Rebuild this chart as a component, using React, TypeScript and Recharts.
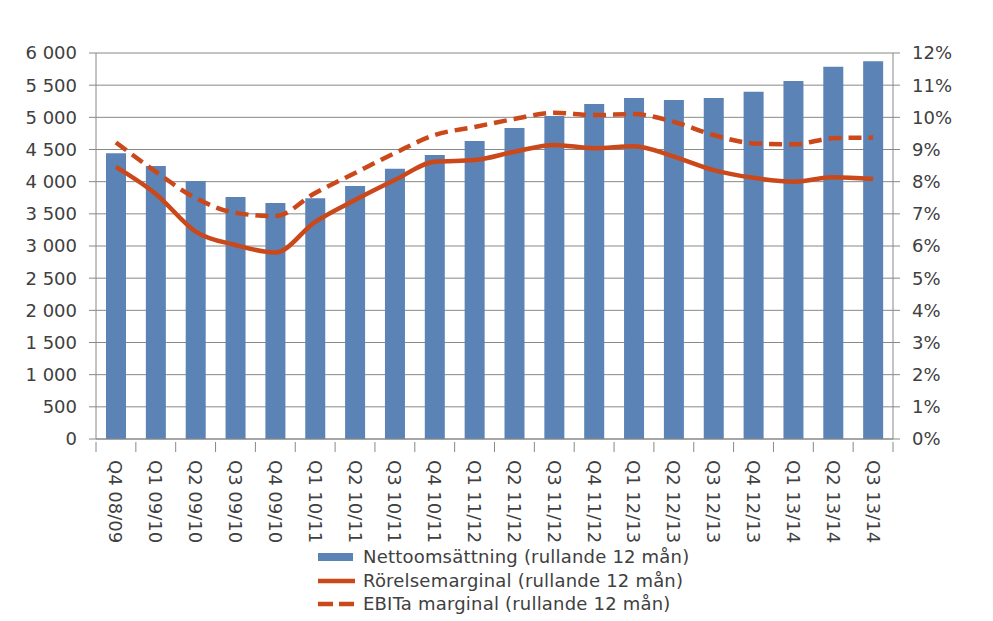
import React from 'react';
import {
  ComposedChart, Bar, Line, XAxis, YAxis, CartesianGrid, Legend,
} from 'recharts';

const categories = [
  'Q4 08/09', 'Q1 09/10', 'Q2 09/10', 'Q3 09/10', 'Q4 09/10',
  'Q1 10/11', 'Q2 10/11', 'Q3 10/11', 'Q4 10/11', 'Q1 11/12',
  'Q2 11/12', 'Q3 11/12', 'Q4 11/12', 'Q1 12/13', 'Q2 12/13',
  'Q3 12/13', 'Q4 12/13', 'Q1 13/14', 'Q2 13/14', 'Q3 13/14',
];

const nettoomsattning = [
  4440, 4243, 4010, 3762, 3670, 3743, 3933, 4199, 4415, 4632,
  4834, 5021, 5207, 5300, 5269, 5300, 5398, 5565, 5787, 5870,
];

const rorelsemarginal = [
  8.46, 7.62, 6.45, 6.03, 5.8, 6.75, 7.43, 8.05, 8.62, 8.67,
  8.93, 9.14, 9.04, 9.1, 8.78, 8.36, 8.12, 8.0, 8.14, 8.08,
];

const ebitaMarginal = [
  9.22, 8.31, 7.49, 7.03, 6.93, 7.65, 8.27, 8.89, 9.45, 9.7,
  9.95, 10.14, 10.07, 10.1, 9.86, 9.45, 9.19, 9.16, 9.35, 9.37,
];

const leftTicks = [0, 500, 1000, 1500, 2000, 2500, 3000, 3500, 4000, 4500, 5000, 5500, 6000];
const rightTicks = [0, 1, 2, 3, 4, 5, 6, 7, 8, 9, 10, 11, 12];

const seriesNames = {
  bar: 'Nettoomsättning (rullande 12 mån)',
  solid: 'Rörelsemarginal (rullande 12 mån)',
  dashed: 'EBITa marginal (rullande 12 mån)',
};

const data = categories.map((c, i) => ({
  name: c,
  netto: nettoomsattning[i],
  rorelse: rorelsemarginal[i],
  ebita: ebitaMarginal[i],
}));

const W = 993;
const H = 621;
const LEFT_W = 96;
const RIGHT_W = 100;
const BAND = (W - LEFT_W - RIGHT_W) / categories.length;

const FONT = '"DejaVu Sans", Verdana, sans-serif';
const TEXT = '#404040';
const AXIS = '#888888';
const BLUE = '#5B83B5';
const RED = '#CB481A';

const fmtThousands = (v: number) => {
  const s = String(v);
  return s.length > 3 ? s.slice(0, s.length - 3) + '\u00a0' + s.slice(s.length - 3) : s;
};

const XTick = (props: any) => {
  const { x, y, payload, index } = props;
  const last = index === categories.length - 1;
  return (
    <g>
      <line x1={x - BAND / 2} x2={x - BAND / 2} y1={y - 5} y2={y + 5} stroke={AXIS} strokeWidth={1} />
      {last && (
        <line x1={x + BAND / 2} x2={x + BAND / 2} y1={y - 5} y2={y + 5} stroke={AXIS} strokeWidth={1} />
      )}
      <text
        transform={`translate(${x},${y + 13}) rotate(90)`}
        x={0}
        y={0}
        dy="0.36em"
        textAnchor="start"
        fill={TEXT}
        fontSize={18}
        fontFamily={FONT}
      >
        {payload.value}
      </text>
    </g>
  );
};

const LegendContent = () => (
  <div style={{ fontFamily: FONT, fontSize: 18, color: TEXT, lineHeight: '23.5px', letterSpacing: '0.2px' }}>
    <div style={{ display: 'flex', alignItems: 'center', whiteSpace: 'nowrap' }}>
      <svg width={45} height={23}>
        <rect x={0} y={8} width={35} height={8} fill={BLUE} />
      </svg>
      <span>{seriesNames.bar}</span>
    </div>
    <div style={{ display: 'flex', alignItems: 'center', whiteSpace: 'nowrap' }}>
      <svg width={45} height={23}>
        <line x1={0} x2={37} y1={12} y2={12} stroke={RED} strokeWidth={4.5} />
      </svg>
      <span>{seriesNames.solid}</span>
    </div>
    <div style={{ display: 'flex', alignItems: 'center', whiteSpace: 'nowrap' }}>
      <svg width={45} height={23}>
        <line x1={0} x2={37} y1={12} y2={12} stroke={RED} strokeWidth={4.5} strokeDasharray="15 6" />
      </svg>
      <span>{seriesNames.dashed}</span>
    </div>
  </div>
);

export default function App() {
  return (
    <div style={{ position: 'absolute', left: 0, top: 0, width: W, height: H, background: '#fff' }}>
      <ComposedChart
        width={W}
        height={H}
        data={data}
        margin={{ top: 53, right: 0, bottom: 0, left: 0 }}
      >
        <CartesianGrid vertical={false} stroke={AXIS} strokeWidth={1} yAxisId="left" />
        <XAxis
          dataKey="name"
          height={182}
          interval={0}
          tickLine={false}
          axisLine={{ stroke: AXIS }}
          tick={<XTick />}
        />
        <YAxis
          yAxisId="left"
          orientation="left"
          width={LEFT_W}
          domain={[0, 6000]}
          ticks={leftTicks}
          interval={0}
          tickFormatter={fmtThousands}
          axisLine={{ stroke: AXIS }}
          tickLine={{ stroke: AXIS }}
          tickSize={7}
          tickMargin={12}
          tick={{ fill: TEXT, fontSize: 18, fontFamily: FONT }}
        />
        <YAxis
          yAxisId="right"
          orientation="right"
          width={RIGHT_W}
          domain={[0, 12]}
          ticks={rightTicks}
          interval={0}
          tickFormatter={(v: number) => `${v}%`}
          axisLine={{ stroke: AXIS }}
          tickLine={{ stroke: AXIS }}
          tickSize={7}
          tickMargin={12}
          tick={{ fill: TEXT, fontSize: 18, fontFamily: FONT }}
        />
        <Bar
          yAxisId="left"
          dataKey="netto"
          name={seriesNames.bar}
          fill={BLUE}
          barSize={20}
          isAnimationActive={false}
        />
        <Line
          yAxisId="right"
          dataKey="rorelse"
          name={seriesNames.solid}
          type="monotone"
          stroke={RED}
          strokeWidth={4.5}
          dot={false}
          activeDot={false}
          isAnimationActive={false}
        />
        <Line
          yAxisId="right"
          dataKey="ebita"
          name={seriesNames.dashed}
          type="monotone"
          stroke={RED}
          strokeWidth={4.5}
          strokeDasharray="13 7"
          dot={false}
          activeDot={false}
          isAnimationActive={false}
        />
        <Legend
          layout="vertical"
          align="center"
          verticalAlign="middle"
          content={<LegendContent />}
          wrapperStyle={{ position: 'absolute', left: 318, top: 545, width: 420, height: 72 }}
        />
      </ComposedChart>
    </div>
  );
}
